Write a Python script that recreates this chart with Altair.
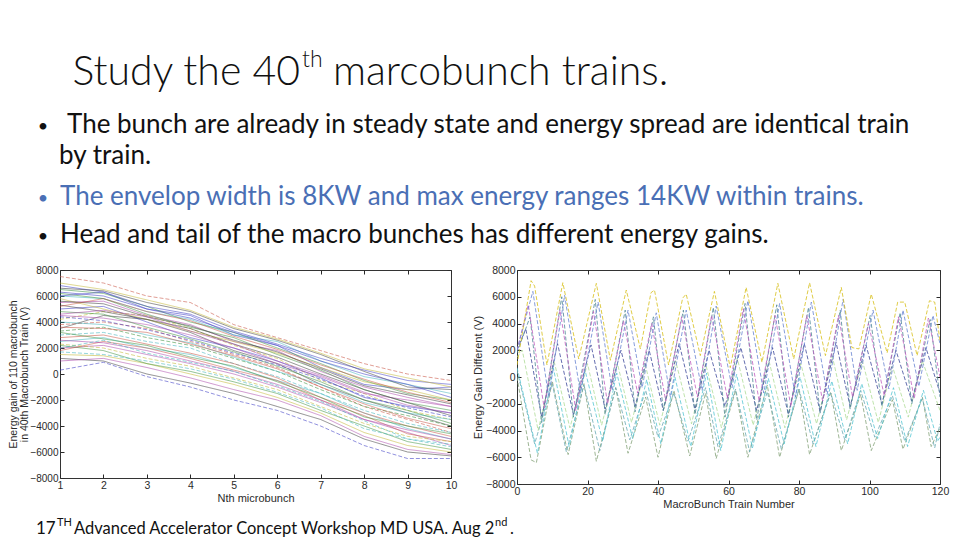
import altair as alt
import pandas as pd

# ---------------- slide text ----------------
TITLE_PARTS = ["Study the 40", "th", "marcobunch trains."]
BULLET = "\u2022"
BULLET_LINES = [
    "The bunch are already in steady state and energy spread are identical train",
    "by train.",
    "The envelop width is 8KW and max energy ranges 14KW within trains.",
    "Head and tail of the macro bunches has different energy gains.",
]
FOOTER_PARTS = ["17", "TH", "Advanced Accelerator Concept Workshop MD USA. Aug 2", "nd", "."]

# ---------------- left chart: energy per microbunch, one line per train ----------------
MICROBUNCH = [1, 2, 3, 4, 5, 6, 7, 8, 9, 10]
LEFT_LINES = [
    [6800, 6300, 5000, 4500, 3000, 2200, 500, -800, -1200, -1000],
    [6500, 6200, 5200, 4000, 3200, 2000, 800, -500, -1500, -2000],
    [7500, 7000, 6000, 5500, 3800, 2800, 1800, 800, 0, -500],
    [6000, 5800, 4800, 4200, 3000, 2500, 1000, -200, -800, -1500],
    [5500, 5600, 4500, 3800, 2500, 1800, 200, -1000, -1800, -2500],
    [4200, 4800, 4500, 3500, 2200, 1200, -500, -1500, -2800, -3500],
    [3500, 4500, 4200, 3200, 1800, 800, -800, -2000, -3000, -4000],
    [5000, 5200, 4000, 2800, 2000, 1000, -300, -1800, -2500, -3000],
    [6200, 5800, 4600, 3600, 2800, 1500, 300, -1200, -2200, -2800],
    [3800, 4000, 3500, 2500, 1500, 500, -1000, -2500, -3500, -4500],
    [2500, 2800, 2000, 1500, 500, -500, -1500, -3000, -4200, -5000],
    [2000, 2200, 1500, 800, 0, -1000, -2200, -3500, -4500, -5500],
    [1500, 1400, 800, 0, -800, -1800, -3000, -4500, -5500, -6000],
    [1200, 1000, 0, -700, -1500, -2500, -3500, -5000, -6000, -6300],
    [300, 900, -200, -1000, -2000, -2800, -4000, -5500, -6500, -6500],
    [2200, 1800, 800, 200, -600, -1500, -2800, -4000, -5200, -5800],
    [1800, 2500, 2000, 1200, 300, -500, -2000, -3200, -4600, -5200],
    [3000, 3200, 2500, 2000, 800, -200, -1500, -2800, -3800, -4500],
    [4500, 4300, 3800, 3000, 2000, 800, -200, -1500, -2000, -2500],
    [5800, 5000, 4200, 3300, 2500, 1600, 500, -600, -1200, -2000],
    [6600, 6400, 5500, 4800, 3500, 2600, 1500, 200, -1000, -1200],
    [6300, 6000, 5000, 4300, 3200, 2200, 1000, 0, -800, -1800],
    [3300, 3600, 2800, 2200, 1200, 200, -1200, -2500, -3200, -4000],
    [2800, 3000, 2300, 1600, 800, -300, -1800, -3000, -4000, -4800],
    [4000, 3800, 3000, 2400, 1300, 200, -800, -2200, -3000, -3500],
    [1000, 1200, 500, -300, -1200, -2000, -3200, -4800, -5800, -6200],
    [2300, 2000, 1200, 600, -300, -1200, -2500, -3800, -4800, -5200],
    [5300, 4800, 4200, 3500, 2300, 1300, 0, -1200, -2200, -3200],
    [6000, 6300, 5200, 4600, 3300, 2300, 1200, 300, -500, -800],
    [4800, 4600, 3600, 2700, 1700, 600, -600, -2000, -2800, -3800],
    [3600, 3500, 3200, 2300, 1400, 400, -1000, -2300, -3400, -4200],
    [1700, 1500, 1000, 400, -400, -1400, -2600, -4200, -5000, -5600],
    [2600, 2400, 1800, 1000, 200, -800, -2000, -3500, -4300, -5000],
    [7000, 6500, 5700, 4900, 3600, 2700, 1600, 400, -300, -1000],
    [5600, 5400, 4400, 3700, 2600, 1700, 400, -900, -1600, -2300],
    [4400, 4100, 3400, 2600, 1600, 700, -400, -1700, -2600, -3300],
    [3200, 2700, 2200, 1300, 600, -600, -1800, -3300, -4000, -4600],
    [5200, 5800, 4800, 4100, 2900, 1900, 700, -400, -1400, -2200],
    [2000, 2600, 1600, 900, 200, -900, -2100, -3600, -5000, -5400],
    [4600, 4900, 4400, 3300, 2300, 1000, -100, -1400, -2400, -3000],
]
LEFT_DASHED = [2, 5, 9, 14, 17, 22, 26, 31, 35, 38]
LEFT_PALETTE = ["#3a3ac4", "#3a8f3a", "#c85040", "#3fb3bd", "#a845a8", "#c2b530", "#3a3a3a"]

# ---------------- right chart: energy gain difference vs train number ----------------
RIGHT_X = [
    [0, 4, 5, 8.5, 13, 17.5, 22.5, 26.5, 31, 35, 38, 39, 43, 47, 48, 52, 56, 60.5, 65, 69.5, 74, 78.5, 83, 87.5, 92, 95, 97, 100.5, 105, 108, 110, 113.5, 117, 118.5, 120],
    [0, 4.5, 9, 13.5, 18, 23, 27, 31.5, 35.5, 39.5, 43.5, 48, 52.5, 56.5, 61, 65.5, 70, 74.5, 79, 83.5, 88, 92.5, 96.5, 101, 105.5, 109.5, 114, 118, 120],
    [0, 3.2, 7.7, 12.2, 16.7, 21.7, 25.7, 30.2, 34.2, 38.2, 42.2, 46.7, 51.2, 55.2, 59.7, 64.2, 68.7, 73.2, 77.7, 82.2, 86.7, 91.2, 95.2, 99.7, 104.2, 108.2, 112.7, 116.7, 120],
    [0, 3.7, 7, 12.7, 16, 22.2, 25, 30.7, 33.5, 38.7, 41.5, 47.2, 50.5, 55.7, 59, 64.7, 68, 73.7, 77, 82.7, 86, 91.7, 94.5, 100.2, 103.5, 108.7, 112, 117.2, 120],
    [0, 2.5, 7, 11.5, 16, 21, 25, 29.5, 33.5, 37.5, 41.5, 46, 50.5, 54.5, 59, 63.5, 68, 72.5, 77, 81.5, 86, 90.5, 94.5, 99, 103.5, 107.5, 112, 116, 120],
    [0, 1.5, 6, 10.5, 15, 20, 24, 28.5, 32.5, 36.5, 40.5, 45, 49.5, 53.5, 58, 62.5, 67, 71.5, 76, 80.5, 85, 89.5, 93.5, 98, 102.5, 106.5, 111, 115, 120],
    [0, 5.8, 10.3, 14.8, 19.3, 24.3, 28.3, 32.8, 36.8, 40.8, 44.8, 49.3, 53.8, 57.8, 62.3, 66.8, 71.3, 75.8, 80.3, 84.8, 89.3, 93.8, 97.8, 102.3, 106.8, 110.8, 115.3, 119.3, 120],
    [0, 5, 10, 14, 19, 23.5, 28, 32, 36.5, 40, 44.5, 48.5, 53.5, 57, 62, 66, 71, 75, 80, 84, 89, 93, 97.5, 101.5, 106.5, 110, 115, 118.5, 120],
    [0, 4, 5.5, 10, 14.5, 19, 22.5, 28, 31.5, 36.5, 40, 44.5, 49, 53.5, 56.5, 62, 65.5, 71, 74.5, 80, 83, 89, 92, 97.5, 100.5, 106.5, 109.5, 115, 117.5, 120],
]
RIGHT_Y = [
    [900, 7200, 6800, 900, 7050, 1350, 7000, 1250, 6500, 2100, 6300, 6500, 900, 5900, 6200, 1600, 6400, 700, 6700, 1100, 7000, 1350, 7050, 1600, 6700, 2200, 2100, 6200, 1800, 5600, 5600, 1600, 5700, 5600, 2700],
    [2000, 6400, -1500, 6100, -1200, 5600, -1000, 5000, -800, 4800, -1500, 5000, -1000, 5300, -800, 5700, -1200, 5500, -1500, 5600, -1300, 5800, -1000, 5000, -900, 5000, -700, 4600, 2500],
    [2000, 5400, -2300, 5000, -2500, 4900, -2000, 4200, -1200, 4000, -1800, 4500, -1500, 4600, -1600, 5100, -1800, 4600, -2200, 4600, -1800, 4600, -1500, 4000, -1400, 4500, -1600, 4400, 0],
    [1800, 4500, -3400, 6000, -3000, 5800, -2800, 5000, -2600, 4500, -2500, 5000, -2800, 5200, -3000, 5500, -3200, 5400, -3000, 5200, -2700, 5000, -2400, 4600, -2200, 4800, -2000, 4300, -1500],
    [2000, 3600, -3000, 2500, -2800, 2400, -2400, 2000, -2200, 2000, -2500, 2500, -2400, 2000, -2200, 2200, -2500, 2200, -2800, 2500, -2600, 2600, -2200, 2400, -2000, 2000, -1800, 2200, -1200],
    [1500, 2000, -4000, 1200, -3800, 1000, -3600, 1000, -3400, 800, -3600, 1200, -3500, 1000, -3800, 1400, -3600, 1200, -3800, 1000, -3500, 1500, -3200, 1200, -3400, 800, -3000, 1200, -2500],
    [700, -5700, 700, -5200, 500, -4800, 300, -4600, -200, -5000, 0, -5200, 300, -5500, 200, -5300, -100, -5000, 0, -5200, -300, -5000, -500, -4600, -800, -5200, -1000, -4800, -4500],
    [500, -5000, -500, -5600, -600, -5500, -800, -4700, -1000, -4500, -1200, -4800, -800, -5200, -900, -5600, -1100, -5400, -900, -5000, -1200, -4700, -1000, -4500, -1400, -4800, -1600, -5300, -3500],
    [0, -6200, -6400, -300, -5800, -500, -6300, -800, -5700, -1500, -6000, -1000, -5900, -1200, -6100, -1000, -6000, -600, -6000, -900, -5800, -1100, -5500, -1300, -5500, -1700, -5400, -1500, -5200, -3800],
]
RIGHT_COLORS = ["#d8c01c", "#6a86d2", "#c060c0", "#4f8796", "#3f4a9c", "#b0dc98", "#58c6d4", "#6aaab5", "#86a37a"]

Y_TICKS = [-8000, -6000, -4000, -2000, 0, 2000, 4000, 6000, 8000]
LEFT_X_TICKS = MICROBUNCH
RIGHT_X_TICKS = [0, 20, 40, 60, 80, 100, 120]

# ---------------- build tables ----------------
left_rows = []
for i, vals in enumerate(LEFT_LINES):
    for mb, v in zip(MICROBUNCH, vals):
        left_rows.append({"line": i, "mb": mb, "e": v,
                          "style": "dash" if i in LEFT_DASHED else "solid"})
left_df = pd.DataFrame(left_rows)

right_rows = []
series = list(zip(RIGHT_X, RIGHT_Y))
for s in reversed(range(len(series))):          # first series (yellow) drawn last, on top
    xs, ys = series[s]
    for k, (x, y) in enumerate(zip(xs, ys)):
        right_rows.append({"s": s, "k": k, "train": x, "d": y})
right_df = pd.DataFrame(right_rows)

AX_FONT = "Liberation Sans"
AX_COLOR = "#2a2a2a"
SLIDE_FONT = "Lato"

def inner_axis(orient, values, title="", labels=True, fmt="d", lsize=10.5,
               tsize=11, tpad=2, lh=11):
    kw = dict(orient=orient, values=values, format=fmt, labels=labels, title=title,
              domain=False, grid=False, ticks=True, tickSize=4, offset=-4,
              tickColor=AX_COLOR, tickWidth=1, labelFlush=False,
              labelFont=AX_FONT, labelFontSize=lsize, labelColor=AX_COLOR, labelPadding=2,
              titleFont=AX_FONT, titleFontSize=tsize, titleColor=AX_COLOR,
              titleFontWeight="normal", titlePadding=tpad, titleLineHeight=lh)
    return alt.Axis(**kw)

def txt(s, x, y, size, color="#111111", align="left", weight="normal"):
    return alt.Chart(pd.DataFrame({"t": [s]})).mark_text(
        align=align, baseline="alphabetic", fontSize=size, font=SLIDE_FONT,
        color=color, fontWeight=weight
    ).encode(x=alt.value(x), y=alt.value(y), text="t:N")

LW, LH = 391, 208
RW, RH = 423, 214

left_x = alt.Scale(domain=[1, 10], nice=False)
y_scale = alt.Scale(domain=[-8000, 8000], nice=False)

left_lines = alt.Chart(left_df).mark_line(strokeWidth=0.7, opacity=0.8, clip=True).encode(
    x=alt.X("mb:Q", scale=left_x,
            axis=inner_axis("bottom", LEFT_X_TICKS, "Nth microbunch")),
    y=alt.Y("e:Q", scale=y_scale,
            axis=inner_axis("left", Y_TICKS,
                            ["Energy gain of 110 macrobunch", "in 40th Macrobunch Train (V)"],
                            lsize=10, tsize=10.5, tpad=0, lh=11)),
    color=alt.Color("line:N", legend=None,
                    scale=alt.Scale(domain=list(range(len(LEFT_LINES))),
                                    range=[LEFT_PALETTE[i % len(LEFT_PALETTE)] for i in range(len(LEFT_LINES))])),
    strokeDash=alt.StrokeDash("style:N", legend=None,
                              scale=alt.Scale(domain=["solid", "dash"], range=[[1, 0], [4, 2]])),
    detail="line:N",
)
left_mirror = alt.Chart(left_df).mark_point(opacity=0).encode(
    x=alt.X("mb:Q", scale=left_x, axis=inner_axis("top", LEFT_X_TICKS, labels=False)),
    y=alt.Y("e:Q", scale=y_scale, axis=inner_axis("right", Y_TICKS, labels=False)),
)

BLUE = "#4a6fb5"
texts = [
    txt(TITLE_PARTS[0], 240, -185, 41, align="right", weight=300),
    txt(TITLE_PARTS[1], 242, -203, 23, weight=300),
    txt(TITLE_PARTS[2], 273, -185, 41, weight=300),
    txt(BULLET, -17, -138, 18, align="center"),
    txt(BULLET_LINES[0], 7, -137, 26),
    txt(BULLET_LINES[1], -1, -106, 26),
    txt(BULLET, -17, -66, 18, color=BLUE, align="center"),
    txt(BULLET_LINES[2], 0, -65, 26, color=BLUE),
    txt(BULLET, -17, -28, 18, align="center"),
    txt(BULLET_LINES[3], 0, -27, 26),
    txt(FOOTER_PARTS[0], -24, 264, 17),
    txt(FOOTER_PARTS[1], -3, 256, 11),
    txt(FOOTER_PARTS[2], 14, 264, 16.5),
    txt(FOOTER_PARTS[3], 435, 256, 11),
    txt(FOOTER_PARTS[4], 450, 264, 16.5),
]

left = alt.layer(left_lines, left_mirror, *texts).resolve_axis(
    x="independent", y="independent").properties(width=LW, height=LH)

right_x = alt.Scale(domain=[0, 120], nice=False)
right_lines = alt.Chart(right_df).mark_line(strokeWidth=0.9, opacity=0.9, strokeDash=[4, 2], clip=True).encode(
    x=alt.X("train:Q", scale=right_x,
            axis=inner_axis("bottom", RIGHT_X_TICKS, "MacroBunch Train Number")),
    y=alt.Y("d:Q", scale=y_scale, axis=inner_axis("left", Y_TICKS, "Energy Gain Different (V)")),
    color=alt.Color("s:N", legend=None,
                    scale=alt.Scale(domain=list(range(len(RIGHT_COLORS))), range=RIGHT_COLORS)),
    order="k:Q",
    detail="s:N",
)
right_mirror = alt.Chart(right_df).mark_point(opacity=0).encode(
    x=alt.X("train:Q", scale=right_x, axis=inner_axis("top", RIGHT_X_TICKS, labels=False)),
    y=alt.Y("d:Q", scale=y_scale, axis=inner_axis("right", Y_TICKS, labels=False)),
)
right = alt.layer(right_lines, right_mirror).resolve_axis(
    x="independent", y="independent").properties(width=RW, height=RH)

chart = alt.hconcat(left, right, spacing=66, bounds="flush").resolve_scale(
    color="independent", strokeDash="independent"
).properties(
    padding={"left": 52, "top": 262, "right": 892, "bottom": 268},
    autosize=alt.AutoSizeParams(type="none"),
    background="white",
).configure_view(stroke="#333333", strokeWidth=1)

chart.save("out.html", embed_options={"renderer": "svg", "actions": False})
